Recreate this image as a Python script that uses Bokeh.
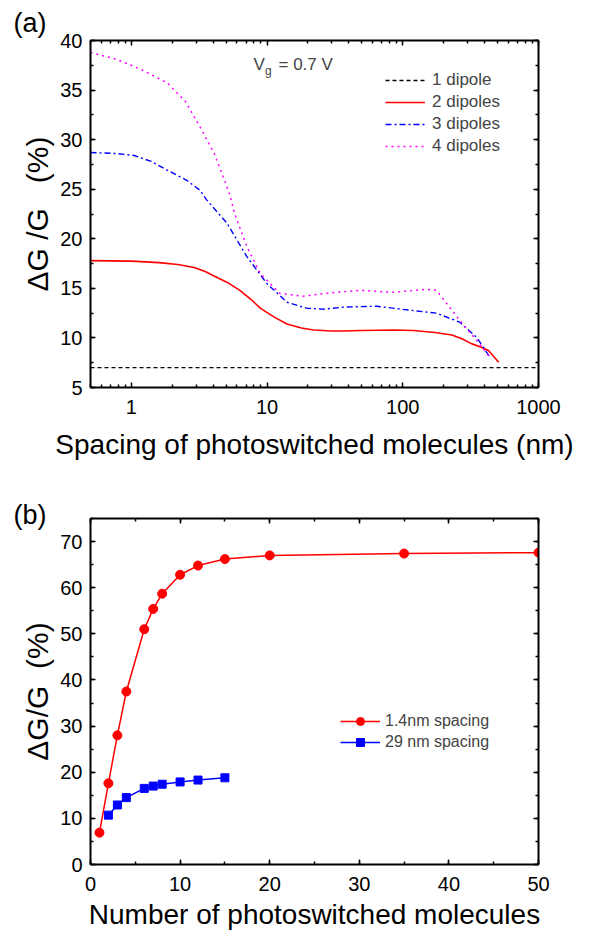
from bokeh.plotting import figure
from bokeh.models import (LogAxis, LinearAxis, FixedTicker, SingleIntervalTicker, Legend,
                          LegendItem, Label, Range1d, PrintfTickFormatter, CustomJSTickFormatter,
                          Title)
from bokeh.layouts import column
from bokeh.embed import file_html
from bokeh.resources import INLINE

FONT = "Liberation Sans"

# ---------------- Panel (a) data ----------------
spacing_1 = [0.5, 1000]
dg_1 = [7.0, 7.0]

spacing_2 = [0.5, 1.0, 1.6, 2.2, 2.9, 3.5, 4.0, 5.1, 6.3, 7.6, 8.9, 11.3, 14, 17.9, 22, 30, 36, 50,
             85, 120, 173, 230, 270, 323, 380, 430, 509]
dg_2 = [17.8, 17.75, 17.6, 17.4, 17.1, 16.7, 16.3, 15.6, 14.8, 13.9, 13.0, 12.1, 11.4, 11.0, 10.8,
        10.7, 10.7, 10.75, 10.8, 10.75, 10.55, 10.3, 9.95, 9.4, 9.05, 8.7, 7.55]

spacing_3 = [0.5, 0.78, 1.05, 1.4, 1.85, 2.56, 3.2, 3.6, 5.05, 7.1, 9.95, 14, 19.6, 26, 36, 64,
             112, 177, 262, 348, 437]
dg_3 = [28.7, 28.6, 28.4, 27.8, 26.9, 25.9, 24.9, 23.9, 21.6, 18.2, 15.5, 13.6, 13.0, 12.9, 13.1,
        13.2, 12.8, 12.5, 11.6, 10.1, 8.1]

spacing_4 = [0.5, 0.78, 1.17, 1.85, 2.52, 3.26, 4.08, 4.86, 5.35, 5.75, 7.1, 8.9, 12.4, 18.4, 27.5,
             48, 85, 149, 177, 262, 348, 430]
dg_4 = [38.8, 38.1, 37.1, 35.7, 33.8, 31.1, 28.6, 25.9, 24.3, 22.6, 19.2, 16.5, 14.5, 14.2, 14.5,
        14.8, 14.6, 14.9, 14.8, 11.8, 9.8, 8.2]

xticks_a = [1, 10, 100, 1000]
xminor_a = [m * 10.0 ** e for e in range(-1, 3) for m in range(2, 10) if m * 10.0 ** e >= 0.5]

# ---------------- Panel (b) data ----------------
n_14 = [1, 2, 3, 4, 6, 7, 8, 10, 12, 15, 20, 35, 50]
dg_14 = [6.9, 17.6, 28.0, 37.5, 51.0, 55.4, 58.7, 62.8, 64.8, 66.2, 67.0, 67.4, 67.6]
n_29 = [2, 3, 4, 6, 7, 8, 10, 12, 15]
dg_29 = [10.7, 12.9, 14.5, 16.5, 17.0, 17.4, 17.9, 18.3, 18.8]


def style_axis(ax, labels=True):
    ax.axis_line_width = 2
    ax.axis_line_color = "black"
    ax.major_tick_in = 5
    ax.major_tick_out = 0
    ax.minor_tick_in = 3
    ax.minor_tick_out = 0
    ax.major_tick_line_width = 1.5
    ax.minor_tick_line_width = 1.5
    ax.major_label_text_font = FONT
    ax.major_label_text_color = "black"
    ax.axis_label_text_font = FONT
    ax.axis_label_text_font_size = "27px"
    ax.axis_label_text_font_style = "normal"
    ax.axis_label_text_color = "black"
    if labels:
        ax.major_label_text_font_size = "20px"
        ax.major_label_standoff = 8
    else:
        ax.formatter = CustomJSTickFormatter(code="return ''")
        ax.major_label_text_font_size = "1px"
        ax.major_label_standoff = 0


def panel_title(txt, standoff):
    return Title(text=txt, align="left", offset=-77, text_font=FONT, text_font_size="27px",
                 text_font_style="normal", text_color="black", standoff=standoff)


# ---------------- Figure (a) ----------------
pa = figure(x_axis_type="log", x_range=Range1d(0.5, 1000), y_range=Range1d(5, 40),
            frame_width=448, frame_height=347, min_border_left=90, min_border_right=52,
            min_border_top=40, min_border_bottom=83, output_backend="svg",
            toolbar_location=None, outline_line_color=None, background_fill_color="white")
pa.grid.visible = False
pa.title = panel_title("(a)", 5)

r1 = pa.line(spacing_1, dg_1, line_color="black", line_width=1.3, line_dash="4 3")
r2 = pa.line(spacing_2, dg_2, line_color="#FF0000", line_width=1.6)
r3 = pa.line(spacing_3, dg_3, line_color="#0000FF", line_width=1.4, line_dash="6 3 2 3")
r4 = pa.line(spacing_4, dg_4, line_color="#FF00FF", line_width=1.5, line_dash="2 4")

xa = pa.xaxis[0]
xa.ticker = FixedTicker(ticks=xticks_a, minor_ticks=xminor_a)
xa.formatter = PrintfTickFormatter(format="%d")
xa.axis_label = "Spacing of photoswitched molecules (nm)"
style_axis(xa)
xa.major_label_standoff = 12
xa.axis_label_text_font_size = "28px"
xa.axis_label_standoff = 12

ya = pa.yaxis[0]
ya.ticker = SingleIntervalTicker(interval=5, num_minor_ticks=2)
ya.axis_label = "ΔG /G\u00a0\u00a0\u00a0(%)"
style_axis(ya)
ya.axis_label_text_font_size = "30px"
ya.axis_label_standoff = 3

top_a = LogAxis(ticker=FixedTicker(ticks=xticks_a, minor_ticks=xminor_a))
style_axis(top_a, labels=False)
pa.add_layout(top_a, "above")
right_a = LinearAxis(ticker=SingleIntervalTicker(interval=5, num_minor_ticks=2))
style_axis(right_a, labels=False)
pa.add_layout(right_a, "right")

legend_a = Legend(items=[LegendItem(label="1 dipole", renderers=[r1]),
                         LegendItem(label="2 dipoles", renderers=[r2]),
                         LegendItem(label="3 dipoles", renderers=[r3]),
                         LegendItem(label="4 dipoles", renderers=[r4])],
                  location=(295, 231), label_text_font=FONT, label_text_font_size="17px",
                  glyph_width=40, glyph_height=20, label_height=20, label_standoff=7,
                  spacing=2, padding=0, margin=0, border_line_color=None,
                  background_fill_alpha=0)
pa.add_layout(legend_a)

pa.add_layout(Label(x=163, y=323, x_units="screen", y_units="screen", text="V",
                    text_font=FONT, text_font_size="17px", text_baseline="alphabetic"))
pa.add_layout(Label(x=174.5, y=317, x_units="screen", y_units="screen", text="g",
                    text_font=FONT, text_font_size="12px", text_baseline="alphabetic"))
pa.add_layout(Label(x=188, y=323, x_units="screen", y_units="screen", text="= 0.7 V",
                    text_font=FONT, text_font_size="17px", text_baseline="alphabetic"))

# ---------------- Figure (b) ----------------
pb = figure(x_range=Range1d(0, 50), y_range=Range1d(0, 75),
            frame_width=448, frame_height=346, min_border_left=90, min_border_right=52,
            min_border_top=48, min_border_bottom=40, output_backend="svg",
            toolbar_location=None, outline_line_color=None, background_fill_color="white")
pb.grid.visible = False
pb.title = panel_title("(b)", -22)

lr = pb.line(n_14, dg_14, line_color="#FF0000", line_width=1.5)
sr = pb.scatter(n_14, dg_14, marker="circle", size=9, fill_color="#FF0000", line_color="#FF0000")
lb = pb.line(n_29, dg_29, line_color="#0000FF", line_width=1.5)
sb = pb.scatter(n_29, dg_29, marker="square", size=8, fill_color="#0000FF", line_color="#0000FF")

xb = pb.xaxis[0]
xb.ticker = SingleIntervalTicker(interval=10, num_minor_ticks=2)
xb.axis_label = "Number of photoswitched molecules"
style_axis(xb)
xb.major_label_standoff = 12
xb.axis_label_text_font_size = "28px"
xb.axis_label_standoff = 5

yb = pb.yaxis[0]
yb.ticker = SingleIntervalTicker(interval=10, num_minor_ticks=2)
yb.axis_label = "ΔG/G\u00a0\u00a0(%)"
style_axis(yb)
yb.axis_label_text_font_size = "30px"
yb.axis_label_standoff = 3

top_b = LinearAxis(ticker=SingleIntervalTicker(interval=10, num_minor_ticks=2))
style_axis(top_b, labels=False)
pb.add_layout(top_b, "above")
right_b = LinearAxis(ticker=SingleIntervalTicker(interval=10, num_minor_ticks=2))
style_axis(right_b, labels=False)
pb.add_layout(right_b, "right")

legend_b = Legend(items=[LegendItem(label="1.4nm spacing", renderers=[lr, sr]),
                         LegendItem(label="29 nm spacing", renderers=[lb, sb])],
                  location=(250, 112), label_text_font=FONT, label_text_font_size="16px",
                  glyph_width=40, glyph_height=20, label_height=20, label_standoff=5,
                  spacing=1, padding=0, margin=0, border_line_color=None,
                  background_fill_alpha=0)
pb.add_layout(legend_b)

layout = column(pa, pb, spacing=0)
open("out.html", "w").write(file_html(layout, INLINE))
